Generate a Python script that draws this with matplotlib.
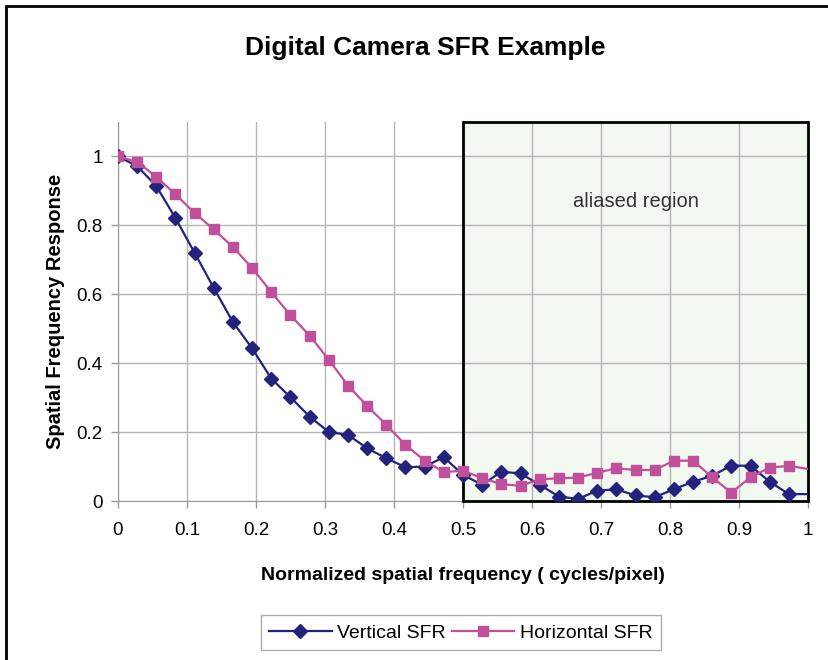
import matplotlib.pyplot as plt
from matplotlib.patches import Rectangle
import numpy as np

# sample index i -> frequency i/36 cycles/pixel
n_samples = 37
freq = np.arange(n_samples) / 36.0

vertical_sfr = [1.0, 0.972, 0.914, 0.821, 0.720, 0.618, 0.519, 0.443, 0.355, 0.301,
                0.245, 0.200, 0.192, 0.153, 0.124, 0.098, 0.100, 0.127, 0.076, 0.047,
                0.085, 0.080, 0.047, 0.013, 0.006, 0.030, 0.034, 0.016, 0.011, 0.034,
                0.056, 0.073, 0.103, 0.102, 0.056, 0.020, 0.020]
horizontal_sfr = [1.0, 0.984, 0.941, 0.890, 0.836, 0.788, 0.737, 0.676, 0.606, 0.539,
                  0.480, 0.410, 0.335, 0.276, 0.221, 0.163, 0.117, 0.084, 0.088, 0.066,
                  0.049, 0.044, 0.063, 0.066, 0.068, 0.082, 0.095, 0.090, 0.090, 0.117,
                  0.117, 0.069, 0.024, 0.069, 0.097, 0.102, 0.093]

xticks = [0, 0.1, 0.2, 0.3, 0.4, 0.5, 0.6, 0.7, 0.8, 0.9, 1]
xticklabels = ['0', '0.1', '0.2', '0.3', '0.4', '0.5', '0.6', '0.7', '0.8', '0.9', '1']
yticks = [0, 0.2, 0.4, 0.6, 0.8, 1]
yticklabels = ['0', '0.2', '0.4', '0.6', '0.8', '1']

plt.rcParams['font.family'] = ['Liberation Sans', 'DejaVu Sans']

fig = plt.figure(figsize=(8.29, 6.6), dpi=100)
ax = fig.add_axes([0.1423, 0.2409, 0.8324, 0.5743])

# aliased region, drawn under the grid
ax.add_patch(Rectangle((0.5, 0), 0.5, 1.1, facecolor='#f1f8ef', edgecolor='none', zorder=0.4))
ax.add_patch(Rectangle((0.5, 0), 0.5, 1.1, fill=False, edgecolor='black', linewidth=2, zorder=3,
                       clip_on=False))
ax.text(0.75, 0.87, 'aliased region', fontsize=14.5, color='#333333', ha='center', va='center')

ax.plot(freq, vertical_sfr, color='#23237d', linewidth=1.6, marker='D', markersize=7,
        markevery=slice(0, 36), label='Vertical SFR', zorder=4)
ax.plot(freq, horizontal_sfr, color='#c04f9c', linewidth=1.6, marker='s', markersize=7.5,
        markevery=slice(0, 36), label='Horizontal SFR', zorder=4)

ax.set_xlim(0, 1)
ax.set_ylim(0, 1.1)
ax.set_axisbelow(True)
ax.grid(True, color='#b4b4b4', linewidth=1)
ax.set_xticks(xticks)
ax.set_xticklabels(xticklabels)
ax.set_yticks(yticks)
ax.set_yticklabels(yticklabels)
ax.tick_params(labelsize=13.5, color='#999999', length=5, width=1)
ax.tick_params(axis='x', pad=10)
ax.tick_params(axis='y', pad=6)
ax.spines['top'].set_visible(False)
ax.spines['right'].set_visible(False)
ax.spines['left'].set_color('#999999')
ax.spines['bottom'].set_color('#999999')

ax.set_xlabel('Normalized spatial frequency ( cycles/pixel)', fontsize=14, fontweight='bold',
              labelpad=20)
ax.set_ylabel('Spatial Frequency Response', fontsize=14.5, fontweight='bold', labelpad=8)

fig.text(0.513, 0.927, 'Digital Camera SFR Example', fontsize=19, fontweight='bold',
         ha='center', va='center')

leg = fig.legend(loc='center', bbox_to_anchor=(0.556, 0.041), ncol=2, fontsize=14,
                 frameon=True, fancybox=False, handlelength=3.2, handletextpad=0.3,
                 columnspacing=0.3, borderpad=0.45)
leg.get_frame().set_edgecolor('#999999')
leg.get_frame().set_linewidth(1)

# outer chart border (cut off on the right and bottom)
fig.add_artist(Rectangle((0.007, -0.1), 1.2, 1.091, transform=fig.transFigure, fill=False,
                         edgecolor='black', linewidth=2))

fig.savefig('out.png', dpi=100)
